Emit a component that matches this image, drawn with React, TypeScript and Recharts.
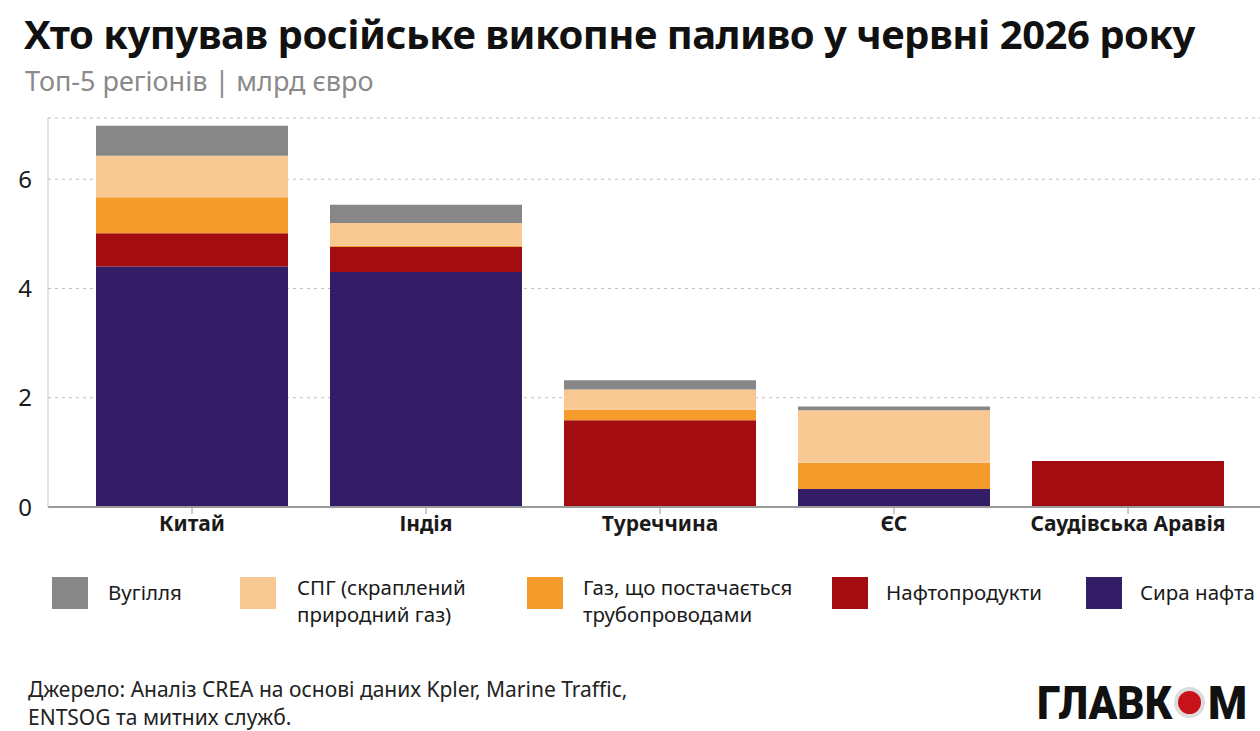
import React from "react"
import { Bar, BarChart, CartesianGrid, XAxis, YAxis } from "recharts"

const categories = ["Китай", "Індія", "Туреччина", "ЄС", "Саудівська Аравія"]
const crudeOil = [4.4, 4.3, 0, 0.33, 0]
const oilProducts = [0.61, 0.46, 1.59, 0, 0.84]
const pipelineGas = [0.66, 0.02, 0.19, 0.48, 0]
const lng = [0.76, 0.42, 0.37, 0.96, 0]
const coal = [0.55, 0.33, 0.17, 0.07, 0]
const yTicks = [0, 2, 4, 6]

const SERIES = [
  { key: "crude", name: "Сира нафта", color: "#321d66" },
  { key: "oil", name: "Нафтопродукти", color: "#a30c10" },
  { key: "pipe", name: "Газ, що постачається трубопроводами", color: "#f59b2b" },
  { key: "lng", name: "СПГ (скраплений природний газ)", color: "#f9c994" },
  { key: "coal", name: "Вугілля", color: "#878787" },
]

const LEGEND = [
  { color: "#878787", lines: ["Вугілля"], x: 52, tx: 108 },
  { color: "#f9c994", lines: ["СПГ (скраплений", "природний газ)"], x: 240, tx: 297 },
  { color: "#f59b2b", lines: ["Газ, що постачається", "трубопроводами"], x: 527, tx: 583 },
  { color: "#a30c10", lines: ["Нафтопродукти"], x: 832, tx: 886 },
  { color: "#321d66", lines: ["Сира нафта"], x: 1086, tx: 1140 },
]

const FONT = "'Noto Sans', 'Open Sans', sans-serif"

const data = categories.map((c, i) => ({
  category: c,
  crude: crudeOil[i],
  oil: oilProducts[i],
  pipe: pipelineGas[i],
  lng: lng[i],
  coal: coal[i],
}))

export default function App() {
  return (
    <div
      style={{
        position: "absolute",
        left: 0,
        top: 0,
        width: 1260,
        height: 731,
        background: "#fff",
        fontFamily: FONT,
        overflow: "hidden",
      }}
    >
      <div
        style={{
          position: "absolute",
          left: 24,
          top: 6,
          fontSize: 40,
          fontWeight: 700,
          color: "#111",
          whiteSpace: "nowrap",
          letterSpacing: -0.5,
        }}
      >
        Хто купував російське викопне паливо у червні 2026 року
      </div>
      <div style={{ position: "absolute", left: 25, top: 62, fontSize: 27, color: "#8a8a8a", whiteSpace: "nowrap" }}>
        Топ-5 регіонів | млрд євро
      </div>

      <div style={{ position: "absolute", left: 0, top: 100 }}>
        <BarChart width={1260} height={460} data={data} margin={{ top: 18, right: 0, bottom: 8, left: 0 }} barSize={192}>
          <CartesianGrid vertical={false} stroke="#bdbdbd" strokeDasharray="3 4" />
          <XAxis
            dataKey="category"
            padding={{ left: 27, right: 15 }}
            axisLine={{ stroke: "#9a9a9a", strokeWidth: 2 }}
            tickLine={{ stroke: "#9a9a9a" }}
            tickSize={7}
            height={45}
            tick={{ fill: "#1a1a1a", fontSize: 21, fontWeight: 700, fontFamily: FONT }}
            interval={0}
          />
          <YAxis
            width={48}
            domain={[0, 7.12]}
            ticks={yTicks}
            axisLine={{ stroke: "#c4c4c4" }}
            tickLine={false}
            tick={{ fill: "#1a1a1a", fontSize: 24, fontFamily: FONT }}
            tickMargin={10}
          />
          {SERIES.map((s) => (
            <Bar key={s.key} dataKey={s.key} name={s.name} stackId="a" fill={s.color} isAnimationActive={false} />
          ))}
        </BarChart>
      </div>

      {LEGEND.map((l) => (
        <React.Fragment key={l.color}>
          <div
            style={{
              position: "absolute",
              left: l.x,
              top: 577,
              width: 36,
              height: 32,
              background: l.color,
            }}
          />
          <div
            style={{
              position: "absolute",
              left: l.tx,
              top: l.lines.length > 1 ? 574 : 579,
              fontSize: 20.5,
              lineHeight: "27px",
              color: "#1a1a1a",
              whiteSpace: "nowrap",
            }}
          >
            {l.lines.map((t) => (
              <div key={t}>{t}</div>
            ))}
          </div>
        </React.Fragment>
      ))}

      <div
        style={{
          position: "absolute",
          left: 28,
          top: 675,
          fontSize: 21,
          lineHeight: "28px",
          color: "#222",
          whiteSpace: "nowrap",
        }}
      >
        <div>Джерело: Аналіз CREA на основі даних Kpler, Marine Traffic,</div>
        <div>ENTSOG та митних служб.</div>
      </div>

      <div
        style={{
          position: "absolute",
          left: 1037,
          top: 672,
          height: 60,
          display: "flex",
          alignItems: "center",
          whiteSpace: "nowrap",
          color: "#111",
          fontFamily: "Roboto, 'Noto Sans', sans-serif",
          fontWeight: 900,
          fontSize: 47,
        }}
      >
        <span style={{ display: "inline-block", width: 137, transform: "scaleX(0.9)", transformOrigin: "left center" }}>
          ГЛАВК
        </span>
        <span
          style={{
            display: "inline-block",
            width: 23,
            height: 23,
            borderRadius: "50%",
            background: "#c8121a",
            border: "4px solid #dcdcdc",
            margin: "0 3px 0 0",
          }}
        />
        <span style={{ display: "inline-block", width: 44, transform: "scaleX(0.95)", transformOrigin: "left center" }}>
          М
        </span>
      </div>
    </div>
  )
}
